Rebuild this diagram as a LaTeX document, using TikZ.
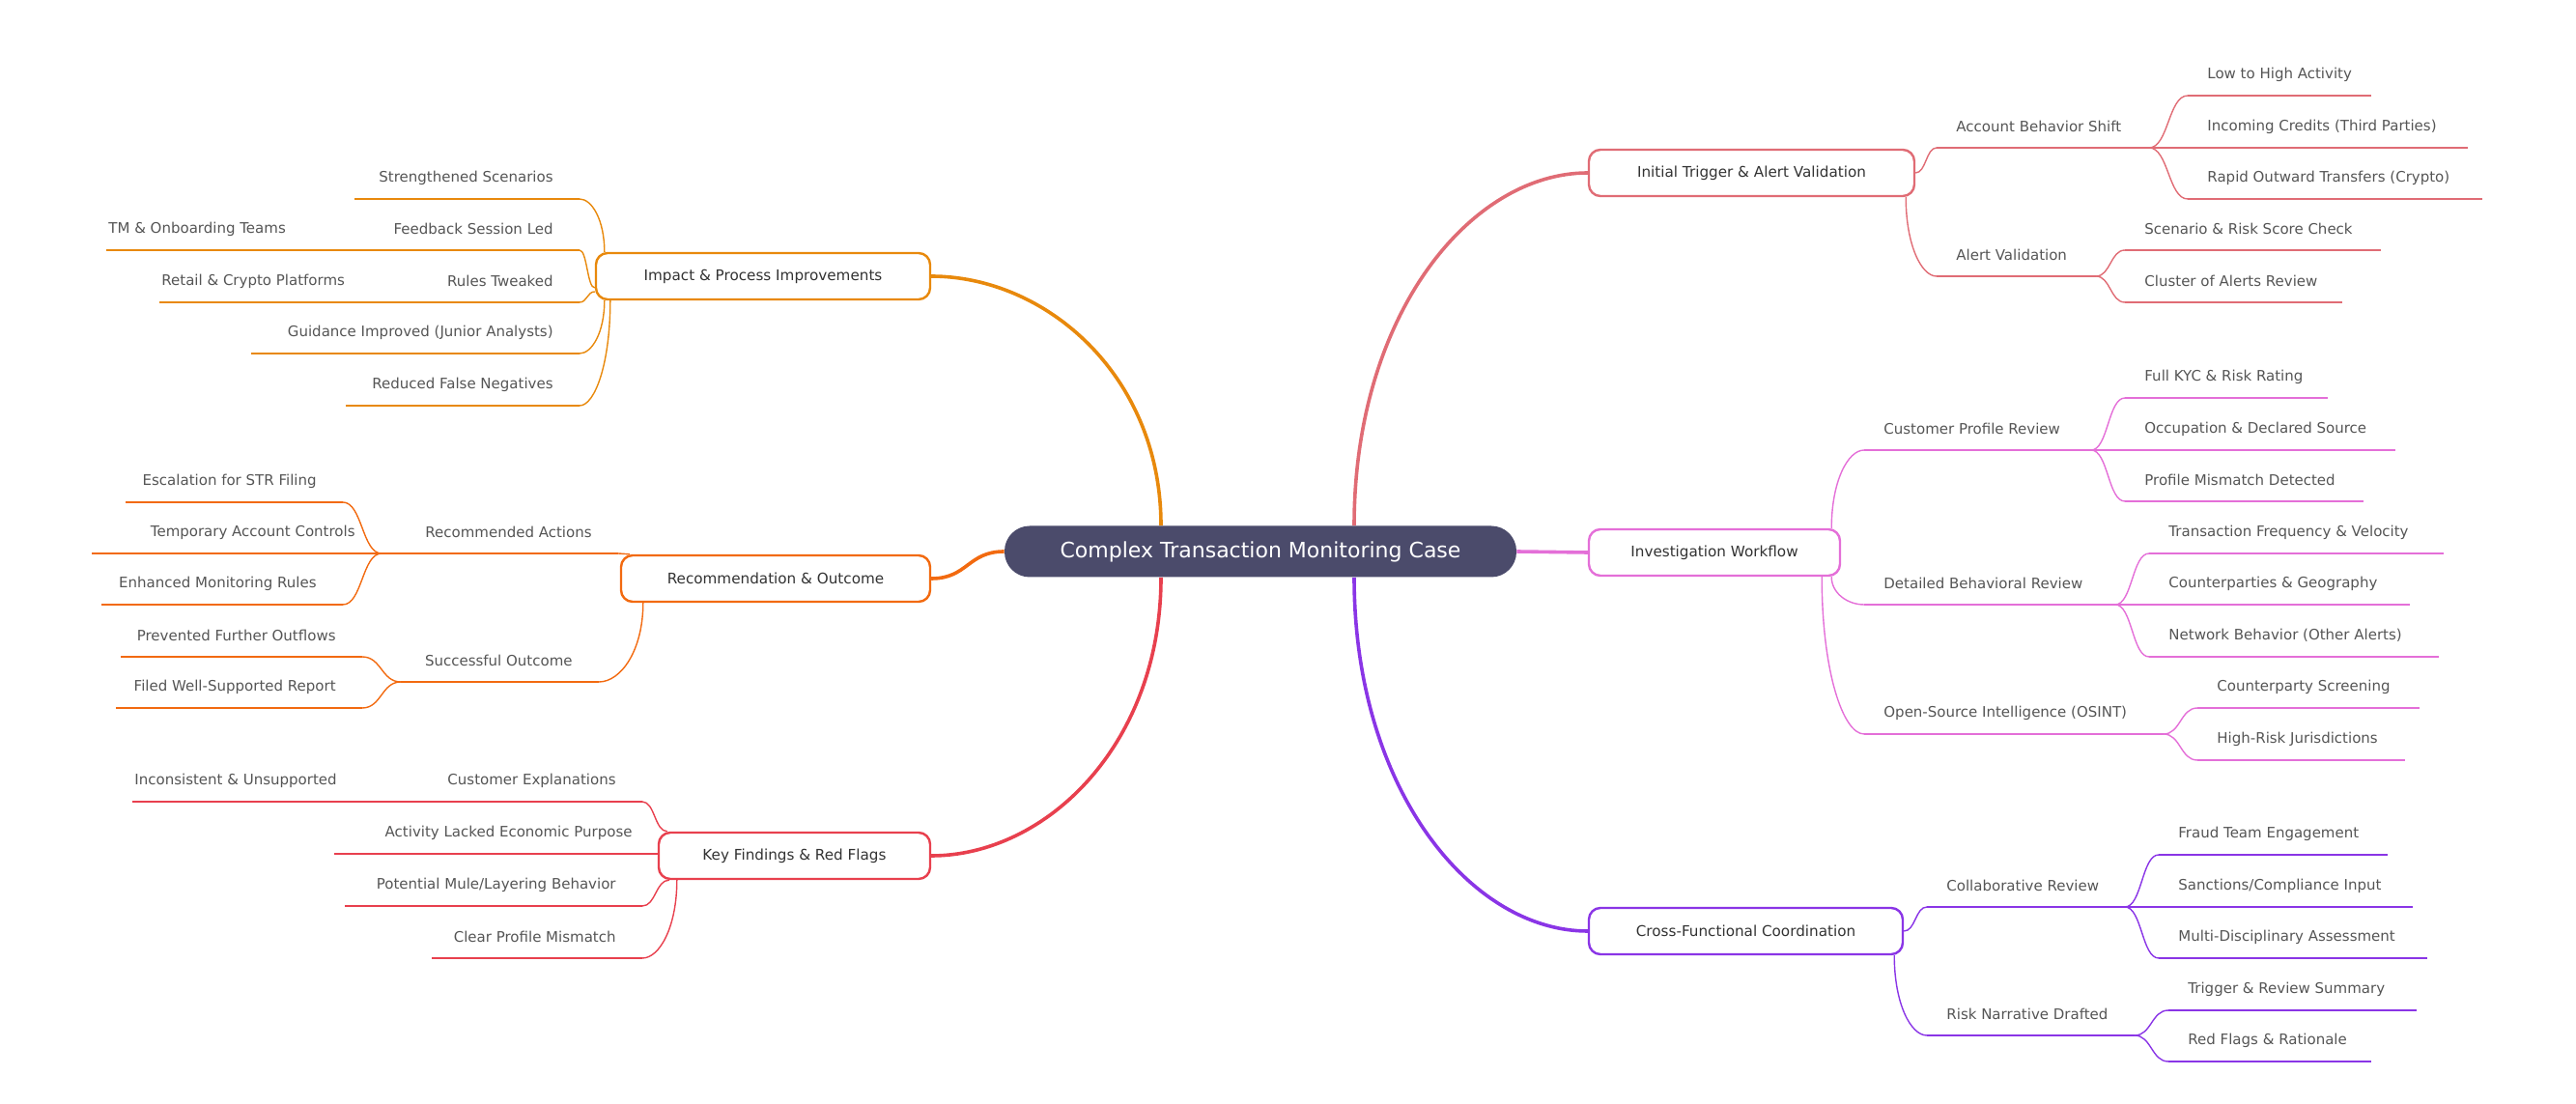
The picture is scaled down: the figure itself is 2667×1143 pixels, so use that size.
\documentclass[tikz,border=0pt]{standalone}
\usepackage{fontspec}
\setmainfont{DejaVu Sans}
\usetikzlibrary{calc}
\definecolor{ctr}{HTML}{E06C75}
\definecolor{cinv}{HTML}{E46FD8}
\definecolor{ccro}{HTML}{8A35E6}
\definecolor{cimp}{HTML}{E8890C}
\definecolor{crec}{HTML}{F26A10}
\definecolor{ckey}{HTML}{E8404E}
\definecolor{cmid}{HTML}{4B4B6B}
\definecolor{ltx}{HTML}{555555}
\tikzset{x=0.5pt,y=-0.5pt,
 lf/.style={font=\fontsize{7.5}{9}\selectfont,text=ltx,inner sep=0pt},
 box/.style={draw,line width=1.2pt,rounded corners=6pt,fill=white,font=\fontsize{7.6}{9}\selectfont,text=black!80,inner sep=0pt},
 ll/.style={line width=0.7pt},
 main/.style={line width=1.8pt}}
\newcommand\bx[6]{\node[box,draw=#5,minimum width={(#3-#2)*0.5pt},minimum height=24pt] (#1) at ({(#2+#3)/2},#4) {#6};}
\newcommand\rleaf[6]{\coordinate (#1-a) at (#2,#4);\coordinate (#1-b) at (#3,#4);
 \draw[#5,ll] (#1-a)--(#1-b);\node[lf,anchor=west] (#1) at ({#2+20},{#4-22}) {#6};}
\newcommand\lleaf[6]{\coordinate (#1-a) at (#2,#4);\coordinate (#1-b) at (#3,#4);
 \draw[#5,ll] (#1-a)--(#1-b);\node[lf,anchor=east] (#1) at ({#3-27},{#4-22}) {#6};}
\newcommand\hh[3]{\coordinate (tA) at (#2);\coordinate (tB) at (#3);
 \draw[#1] (tA) .. controls ($(tA)!.5!(tA-|tB)$) and ($(tB)!.5!(tB-|tA)$) .. (tB);}
\newcommand\vc[3]{\coordinate (tA) at (#2);\coordinate (tB) at (#3);
 \draw[#1] (tA) .. controls ($(tA)!.6!(tA|-tB)$) and ($(tB)!.5!(tB-|tA)$) .. (tB);}
\begin{document}
\begin{tikzpicture}
\useasboundingbox (0,0) rectangle (2667,1143);
\node[fill=cmid,rounded corners=13pt,minimum width=265pt,minimum height=26.5pt,text=white,font=\fontsize{11}{13}\selectfont,inner sep=0pt] (center) at (1305,571) {Complex Transaction Monitoring Case};
% boxes
\bx{trig}{1645}{1982}{179}{ctr}{Initial Trigger \& Alert Validation}
\bx{inv}{1645}{1905}{572}{cinv}{Investigation Workflow}
\bx{cro}{1645}{1970}{964}{ccro}{Cross-Functional Coordination}
\bx{imp}{617}{963}{286}{cimp}{Impact \& Process Improvements}
\bx{rec}{643}{963}{599}{crec}{Recommendation \& Outcome}
\bx{key}{682}{963}{886}{ckey}{Key Findings \& Red Flags}
% main connectors
\vc{ctr,main}{[xshift=48.5pt]center.north}{trig.west}
\draw[cinv,main] (center.east)--(inv.west);
\vc{ccro,main}{[xshift=48.5pt]center.south}{cro.west}
\vc{cimp,main}{[xshift=-51.5pt]center.north}{imp.east}
\hh{crec,main}{center.west}{rec.east}
\vc{ckey,main}{[xshift=-51.5pt]center.south}{key.east}
% trigger
\rleaf{abs}{2005}{2225}{153}{ctr}{Account Behavior Shift}
\rleaf{l1}{2265}{2455}{99}{ctr}{Low to High Activity}
\rleaf{l2}{2265}{2555}{153}{ctr}{Incoming Credits (Third Parties)}
\rleaf{l3}{2265}{2570}{206}{ctr}{Rapid Outward Transfers (Crypto)}
\rleaf{av}{2005}{2170}{286}{ctr}{Alert Validation}
\rleaf{l4}{2200}{2465}{259}{ctr}{Scenario \& Risk Score Check}
\rleaf{l5}{2200}{2425}{313}{ctr}{Cluster of Alerts Review}
\hh{ctr,ll}{trig.east}{abs-a}
\vc{ctr,ll}{[xshift=-5pt]trig.south east}{av-a}
\foreach \l in {l1,l2,l3}{\hh{ctr,ll}{abs-b}{\l-a}}
\foreach \l in {l4,l5}{\hh{ctr,ll}{av-b}{\l-a}}
% investigation
\rleaf{cpr}{1930}{2165}{466}{cinv}{Customer Profile Review}
\rleaf{m1}{2200}{2410}{412}{cinv}{Full KYC \& Risk Rating}
\rleaf{m2}{2200}{2480}{466}{cinv}{Occupation \& Declared Source}
\rleaf{m3}{2200}{2447}{519}{cinv}{Profile Mismatch Detected}
\rleaf{dbr}{1930}{2190}{626}{cinv}{Detailed Behavioral Review}
\rleaf{m4}{2225}{2530}{573}{cinv}{Transaction Frequency \& Velocity}
\rleaf{m5}{2225}{2495}{626}{cinv}{Counterparties \& Geography}
\rleaf{m6}{2225}{2525}{680}{cinv}{Network Behavior (Other Alerts)}
\rleaf{osi}{1930}{2240}{760}{cinv}{Open-Source Intelligence (OSINT)}
\rleaf{m7}{2275}{2505}{733}{cinv}{Counterparty Screening}
\rleaf{m8}{2275}{2490}{787}{cinv}{High-Risk Jurisdictions}
\vc{cinv,ll}{[xshift=-5pt]inv.north east}{cpr-a}
\vc{cinv,ll}{[xshift=-5pt]inv.south east}{dbr-a}
\vc{cinv,ll}{[xshift=-10pt]inv.south east}{osi-a}
\foreach \l in {m1,m2,m3}{\hh{cinv,ll}{cpr-b}{\l-a}}
\foreach \l in {m4,m5,m6}{\hh{cinv,ll}{dbr-b}{\l-a}}
\foreach \l in {m7,m8}{\hh{cinv,ll}{osi-b}{\l-a}}
% cross
\rleaf{clr}{1995}{2200}{939}{ccro}{Collaborative Review}
\rleaf{n1}{2235}{2472}{885}{ccro}{Fraud Team Engagement}
\rleaf{n2}{2235}{2498}{939}{ccro}{Sanctions/Compliance Input}
\rleaf{n3}{2235}{2513}{992}{ccro}{Multi-Disciplinary Assessment}
\rleaf{rnd}{1995}{2210}{1072}{ccro}{Risk Narrative Drafted}
\rleaf{n4}{2245}{2502}{1046}{ccro}{Trigger \& Review Summary}
\rleaf{n5}{2245}{2455}{1099}{ccro}{Red Flags \& Rationale}
\hh{ccro,ll}{cro.east}{clr-a}
\vc{ccro,ll}{[xshift=-5pt]cro.south east}{rnd-a}
\foreach \l in {n1,n2,n3}{\hh{ccro,ll}{clr-b}{\l-a}}
\foreach \l in {n4,n5}{\hh{ccro,ll}{rnd-b}{\l-a}}
% impact
\lleaf{p1}{367}{600}{206}{cimp}{Strengthened Scenarios}
\lleaf{p2}{360}{600}{259}{cimp}{Feedback Session Led}
\node[lf,anchor=west] (p2x) at (112,237) {TM \& Onboarding Teams};
\draw[cimp,ll] (110,259)--(p2-a);
\lleaf{p3}{360}{600}{313}{cimp}{Rules Tweaked}
\node[lf,anchor=west] (p3x) at (167,291) {Retail \& Crypto Platforms};
\draw[cimp,ll] (165,313)--(p3-a);
\lleaf{p4}{260}{600}{366}{cimp}{Guidance Improved (Junior Analysts)}
\lleaf{p5}{358}{600}{420}{cimp}{Reduced False Negatives}
\vc{cimp,ll}{[xshift=5pt]imp.north west}{p1-b}
\hh{cimp,ll}{[yshift=-6pt]imp.west}{p2-b}
\hh{cimp,ll}{[yshift=-8pt]imp.west}{p3-b}
\vc{cimp,ll}{[xshift=5pt]imp.south west}{p4-b}
\vc{cimp,ll}{[xshift=8pt]imp.south west}{p5-b}
% recommendation
\lleaf{ra}{395}{640}{573}{crec}{Recommended Actions}
\lleaf{q1}{130}{355}{520}{crec}{Escalation for STR Filing}
\lleaf{q2}{95}{395}{573}{crec}{Temporary Account Controls}
\lleaf{q3}{105}{355}{626}{crec}{Enhanced Monitoring Rules}
\lleaf{so}{415}{620}{706}{crec}{Successful Outcome}
\lleaf{q4}{125}{375}{680}{crec}{Prevented Further Outflows}
\lleaf{q5}{120}{375}{733}{crec}{Filed Well-Supported Report}
\hh{crec,ll}{[xshift=5pt]rec.north west}{ra-b}
\vc{crec,ll}{[xshift=12pt]rec.south west}{so-b}
\foreach \l in {q1,q3}{\hh{crec,ll}{ra-a}{\l-b}}
\foreach \l in {q4,q5}{\hh{crec,ll}{so-a}{\l-b}}
% key findings
\lleaf{k1}{137}{665}{830}{ckey}{Customer Explanations}
\node[lf,anchor=west] (k1x) at (139,808) {Inconsistent \& Unsupported};
\lleaf{k2}{346}{682}{884}{ckey}{Activity Lacked Economic Purpose}
\lleaf{k3}{357}{665}{938}{ckey}{Potential Mule/Layering Behavior}
\lleaf{k4}{447}{665}{992}{ckey}{Clear Profile Mismatch}
\hh{ckey,ll}{[xshift=5pt]key.north west}{k1-b}
\hh{ckey,ll}{[xshift=6pt]key.south west}{k3-b}
\vc{ckey,ll}{[xshift=10pt]key.south west}{k4-b}
\end{tikzpicture}
\end{document}
